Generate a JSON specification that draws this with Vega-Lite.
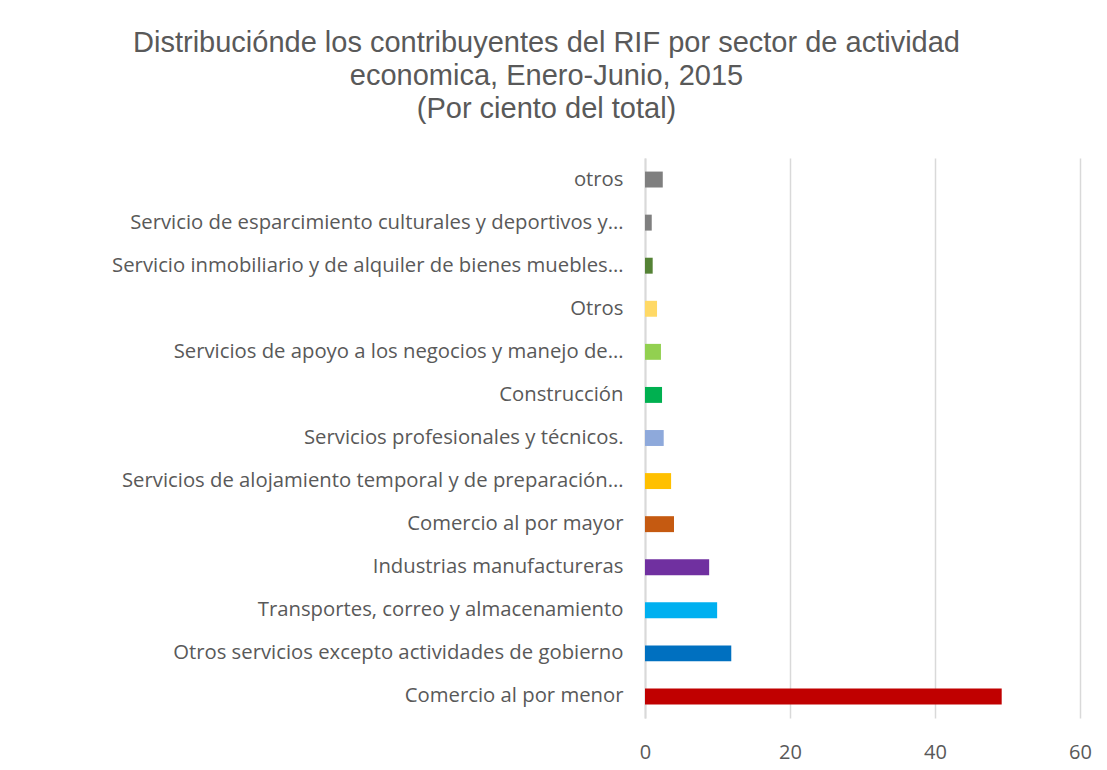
{
  "$schema": "https://vega.github.io/schema/vega-lite/v6.json",
  "autosize": "none",
  "width": 435,
  "height": 560,
  "padding": {"left": 645, "top": 158, "right": 27, "bottom": 52},
  "background": "white",
  "title": {
    "text": ["Distribuciónde los contribuyentes del RIF por sector de actividad", "economica, Enero-Junio, 2015", "(Por ciento del total)"],
    "font": "Liberation Sans",
    "fontSize": 29,
    "fontWeight": "normal",
    "color": "#595959",
    "lineHeight": 33,
    "anchor": "middle",
    "dx": -316,
    "offset": 34
  },
  "data": {
    "values": [
      {"sector": "otros", "valor": 2.45, "color": "#7F7F7F"},
      {"sector": "Servicio de esparcimiento culturales y deportivos y…", "valor": 0.93, "color": "#7F7F7F"},
      {"sector": "Servicio inmobiliario y de alquiler de bienes muebles…", "valor": 1.06, "color": "#548235"},
      {"sector": "Otros\u2002", "valor": 1.66, "color": "#FFD966"},
      {"sector": "Servicios de apoyo a los negocios y manejo de…", "valor": 2.2, "color": "#92D050"},
      {"sector": "Construcción", "valor": 2.35, "color": "#00B050"},
      {"sector": "Servicios profesionales y técnicos.", "valor": 2.58, "color": "#8EA9DB"},
      {"sector": "Servicios de alojamiento temporal y de preparación…", "valor": 3.6, "color": "#FFC000"},
      {"sector": "Comercio al por mayor", "valor": 4.0, "color": "#C55A11"},
      {"sector": "Industrias manufactureras", "valor": 8.85, "color": "#7030A0"},
      {"sector": "Transportes, correo y almacenamiento", "valor": 9.95, "color": "#00B0F0"},
      {"sector": "Otros servicios excepto actividades de gobierno", "valor": 11.9, "color": "#0070C0"},
      {"sector": "Comercio al por menor\u2002", "valor": 49.2, "color": "#C00000"}
    ]
  },
  "mark": {"type": "bar"},
  "encoding": {
    "y": {
      "field": "sector",
      "type": "nominal",
      "sort": null,
      "scale": {"paddingInner": 0.63, "paddingOuter": 0.315},
      "axis": {
        "title": null,
        "labelFont": "Open Sans",
        "labelFontSize": 20.3,
        "labelColor": "#595959",
        "labelPadding": 22,
        "labelLimit": 0,
        "ticks": false,
        "domain": true,
        "domainColor": "#D9D9D9",
        "domainWidth": 2
      }
    },
    "x": {
      "field": "valor",
      "type": "quantitative",
      "scale": {"domain": [0, 60], "nice": false},
      "axis": {
        "title": null,
        "values": [0, 20, 40, 60],
        "labelFont": "Open Sans",
        "labelFontSize": 20,
        "labelColor": "#595959",
        "labelPadding": 24,
        "labelFlush": false,
        "ticks": false,
        "domain": false,
        "grid": true,
        "gridColor": "#D9D9D9",
        "gridWidth": 1.5
      }
    },
    "color": {"field": "color", "type": "nominal", "scale": null, "legend": null}
  },
  "config": {"view": {"stroke": null}}
}
